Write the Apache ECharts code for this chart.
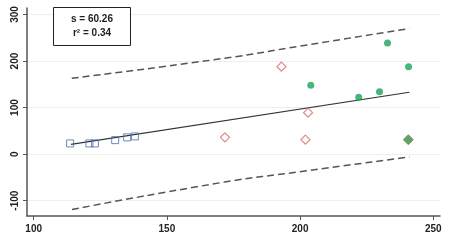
<!DOCTYPE html>
<html><head><meta charset="utf-8">
<script src="https://cdn.jsdelivr.net/npm/echarts@6/dist/echarts.min.js"></script>
<style>html,body{margin:0;padding:0;background:#fff}#c{width:450px;height:242px}</style>
</head><body><div id="c"></div>
<script>
var xTicks = [100, 150, 200, 250];
var yTicks = [-100, 0, 100, 200, 300];
var blueSquares = [[113.7, 23], [120.9, 23], [123, 23], [130.6, 30], [135.1, 36], [138, 38]];
var redDiamonds = [[171.8, 36], [193, 188], [202, 31], [203, 89]];
var greenCircles = [[204, 148], [222, 122], [229.8, 134], [232.8, 239], [240.7, 188]];
var greenDiamond = [[240.6, 31]];
var fitLine = [[114, 21], [241, 133]];
var upperBand = [[114.3, 163], [171.7, 206], [199.8, 232], [241, 270]];
var lowerBand = [[114.4, -119], [171.7, -60], [199.8, -38], [241, -6]];
var statS = 's = 60.26';
var statR = 'r\u00b2 = 0.34';

var chart = echarts.init(document.getElementById('c'), null, {renderer: 'canvas'});
var font = 'Arial, "Liberation Sans", sans-serif';
chart.setOption({
  animation: false,
  grid: {left: 27, right: 10, top: 8, bottom: 26, containLabel: false},
  xAxis: {
    type: 'value', min: 97.5, max: 252.5,
    axisLine: {show: true, onZero: false, lineStyle: {color: '#555', width: 1.5}},
    axisTick: {show: true, length: 4, lineStyle: {color: '#555'}, customValues: xTicks},
    axisLabel: {customValues: xTicks, color: '#222', fontSize: 10, fontWeight: 'bold', fontFamily: font, margin: 8},
    splitLine: {show: false}
  },
  yAxis: {
    type: 'value', min: -133, max: 314,
    axisLine: {show: true, onZero: false, lineStyle: {color: '#555', width: 1.5}},
    axisTick: {show: true, length: 4, lineStyle: {color: '#555'}, customValues: yTicks},
    axisLabel: {customValues: yTicks, rotate: 90, color: '#222', fontSize: 10, fontWeight: 'bold', fontFamily: font, margin: 7},
    splitLine: {show: true, lineStyle: {color: '#eeeeee', width: 1}, customValues: yTicks}
  },
  graphic: [
    {type: 'rect', x: 53.5, y: 7.5, shape: {x: 0, y: 0, width: 77, height: 38}, style: {fill: '#fff', stroke: '#222', lineWidth: 1}, z: 10},
    {type: 'text', x: 92, y: 19.5, style: {text: statS, align: 'center', verticalAlign: 'middle', font: 'bold 10px ' + font, fill: '#222'}, z: 11},
    {type: 'text', x: 92, y: 33, style: {text: statR, align: 'center', verticalAlign: 'middle', font: 'bold 10px ' + font, fill: '#222'}, z: 11}
  ],
  series: [
    {type: 'line', data: upperBand, smooth: true, symbol: 'none', lineStyle: {color: '#555', width: 1.5, type: [7, 4]}, z: 2},
    {type: 'line', data: lowerBand, smooth: true, symbol: 'none', lineStyle: {color: '#555', width: 1.5, type: [7, 4]}, z: 2},
    {type: 'line', data: fitLine, symbol: 'none', lineStyle: {color: '#333', width: 1.2}, z: 3},
    {type: 'scatter', data: blueSquares, symbol: 'rect', symbolSize: 7, itemStyle: {color: 'rgba(255,255,255,0)', borderColor: '#4a6aa8', borderWidth: 1}, z: 4},
    {type: 'scatter', data: redDiamonds, symbol: 'diamond', symbolSize: [9, 9], itemStyle: {color: '#fff', borderColor: '#d96a6a', borderWidth: 1.2}, z: 4},
    {type: 'scatter', data: greenCircles, symbol: 'circle', symbolSize: 7, itemStyle: {color: '#18a558'}, z: 4},
    {type: 'scatter', data: greenDiamond, symbol: 'diamond', symbolSize: 10, itemStyle: {color: '#2f8f45', borderColor: '#8a7a3a', borderWidth: 1}, z: 5}
  ]
});
</script></body></html>
